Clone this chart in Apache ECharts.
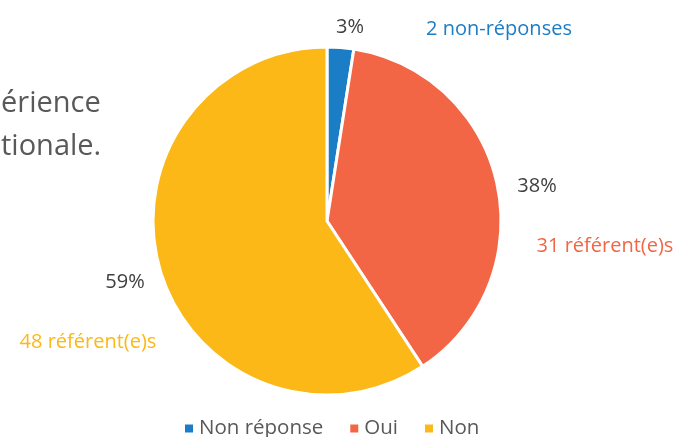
<!DOCTYPE html>
<html>
<head>
<meta charset="utf-8">
<script src="https://cdn.jsdelivr.net/npm/echarts@6/dist/echarts.min.js"></script>
<style>
  html, body { margin: 0; padding: 0; background: #fff; }
  #chart { width: 680px; height: 437px; }
</style>
</head>
<body>
<div id="chart"></div>
<script>
// données du graphique
const categories = ['Non réponse', 'Oui', 'Non'];
const counts = [2, 31, 48];
const pctLabels = ['3%', '38%', '59%'];
const countLabels = ['2 non-réponses', '31 référent(e)s', '48 référent(e)s'];
const colors = ['#1a7dc6', '#f26645', '#fbb817'];
const bgLines = ['érience', 'tionale.'];

const FONT = '"Open Sans", sans-serif';

// positions des étiquettes (pourcentages et effectifs)
const pctPos = [[350, 27], [537, 186], [125, 282]];
const countPos = [[499, 29], [605, 246], [88, 342]];

const chart = echarts.init(document.getElementById('chart'));
const option = {
  animation: false,
  color: colors,
  legend: {
    bottom: -7,
    left: 178,
    itemWidth: 10,
    itemHeight: 10,
    itemGap: 25,
    icon: 'rect',
    textStyle: { fontFamily: FONT, fontSize: 20.5, color: '#595959' },
    data: categories
  },
  graphic: bgLines.map((t, i) => ({
    type: 'text',
    left: 1,
    top: 89 + i * 43,
    style: { text: t, font: '29px ' + FONT, fill: '#595959' }
  })).concat(countLabels.map((t, i) => ({
    type: 'text',
    x: countPos[i][0],
    y: countPos[i][1],
    style: {
      text: t, font: '20px ' + FONT, fill: colors[i],
      align: 'center', verticalAlign: 'middle'
    }
  }))),
  series: [
    {
      type: 'pie',
      center: [327, 221],
      radius: 174,
      startAngle: 90,
      itemStyle: { borderColor: '#fff', borderWidth: 3 },
      label: {
        show: true,
        fontFamily: FONT,
        fontSize: 20,
        color: '#404040',
        formatter: p => pctLabels[p.dataIndex]
      },
      labelLine: { show: false },
      labelLayout: p => ({
        x: pctPos[p.dataIndex][0],
        y: pctPos[p.dataIndex][1],
        align: 'center',
        verticalAlign: 'middle'
      }),
      emphasis: { disabled: true },
      data: categories.map((c, i) => ({ name: c, value: counts[i] }))
    }
  ]
};
chart.setOption(option);
</script>
</body>
</html>
